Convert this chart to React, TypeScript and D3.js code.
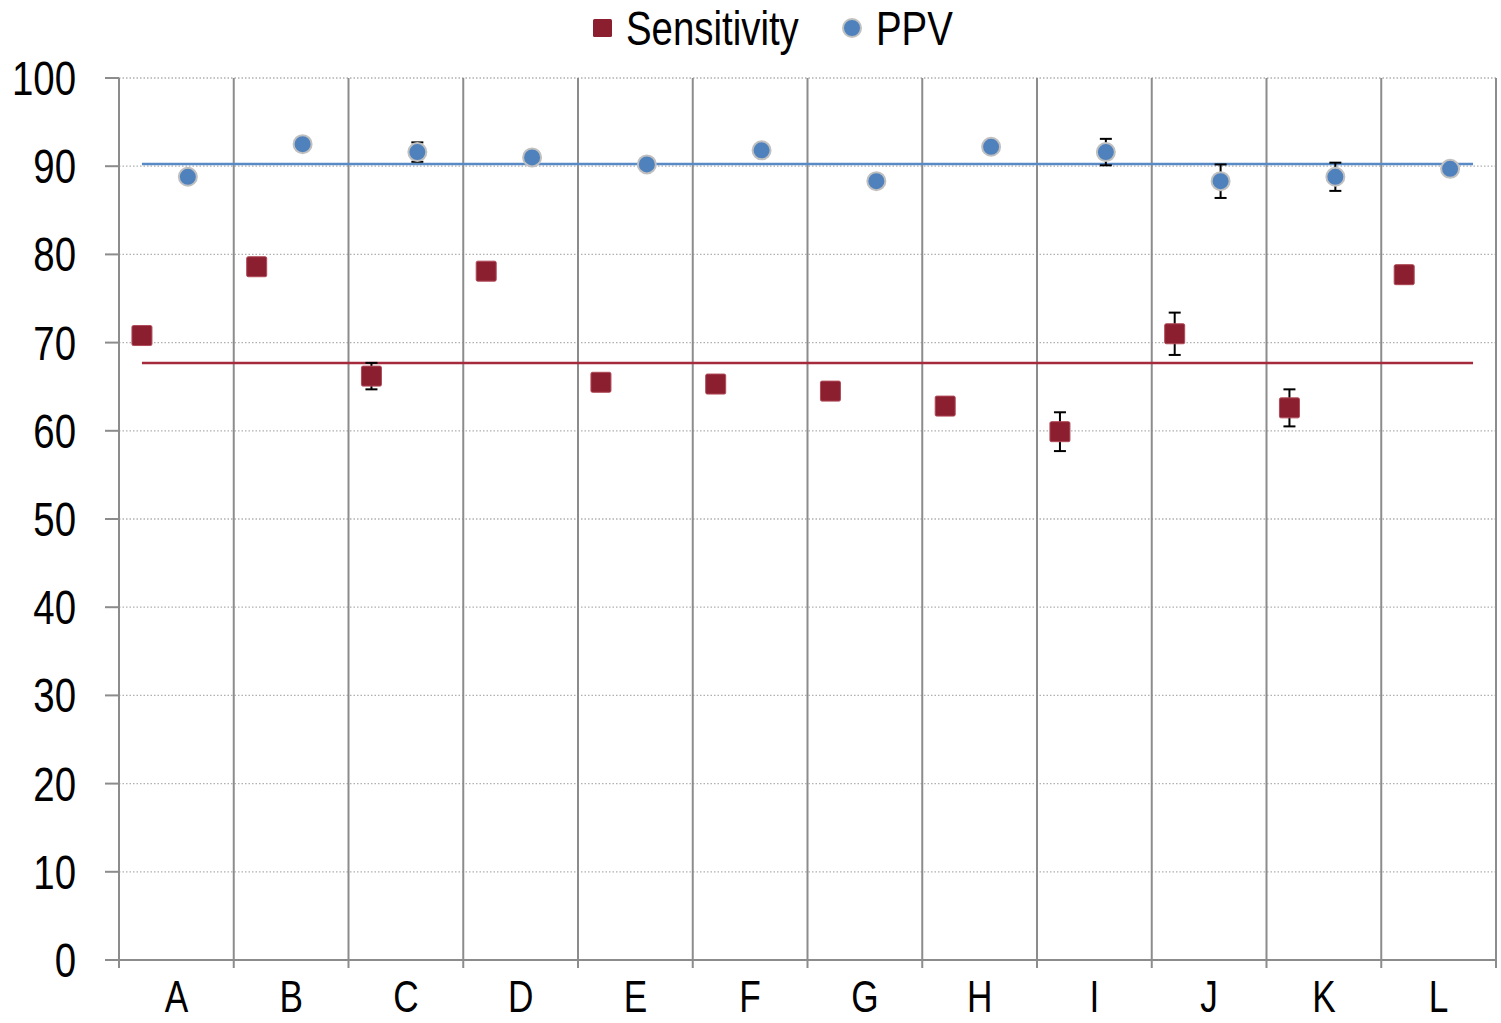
import { useEffect, useRef } from "react";
import * as d3 from "d3";

const categories = ["A", "B", "C", "D", "E", "F", "G", "H", "I", "J", "K", "L"];
const sensitivity = [70.8, 78.6, 66.2, 78.1, 65.5, 65.3, 64.5, 62.8, 59.9, 71.0, 62.6, 77.7];
const sensitivityErr = [0, 0, 1.5, 0, 0, 0, 0, 0, 2.2, 2.4, 2.1, 1.0];
const ppv = [88.8, 92.5, 91.6, 91.0, 90.2, 91.8, 88.3, 92.2, 91.6, 88.3, 88.8, 89.7];
const ppvErr = [0, 0, 1.1, 0, 0, 0, 0, 0, 1.5, 1.9, 1.6, 0];
const sensitivityMean = 67.7;
const ppvMean = 90.25;
const yTicks = [0, 10, 20, 30, 40, 50, 60, 70, 80, 90, 100];

// no narrow font installed, so Liberation Sans gets squeezed horizontally
const FONT = "'Liberation Sans', Arial, sans-serif";
const SQUEEZE = 0.8;
const RED = "#8B1F2F";
const BLUE = "#4F81BD";

export default function App() {
  const svgRef = useRef<SVGSVGElement>(null);

  useEffect(() => {
    if (!svgRef.current) return;
    const svg = d3.select(svgRef.current);
    svg.selectAll("*").remove();

    const left = 119, right = 1496, top = 78, bottom = 960;

    const x = d3.scaleBand().domain(categories).range([left, right]).padding(0);
    const y = d3.scaleLinear().domain([0, 100]).range([bottom, top]);
    const bw = x.bandwidth();
    const sx = (c: string) => (x(c) || 0) + bw * 0.2;
    const px = (c: string) => (x(c) || 0) + bw * 0.6;

    const label = (parent: any, tx: number, ty: number, txt: string, anchor: string, size = 47) =>
      parent.append("text")
        .attr("transform", `translate(${tx},${ty}) scale(${SQUEEZE},1)`)
        .attr("text-anchor", anchor)
        .style("font-family", FONT)
        .style("font-size", `${size}px`)
        .style("fill", "#000")
        .text(txt);

    // horizontal dotted gridlines
    svg.append("g")
      .selectAll("line")
      .data(yTicks.filter(t => t > 0))
      .enter()
      .append("line")
      .attr("x1", left).attr("x2", right)
      .attr("y1", d => y(d)).attr("y2", d => y(d))
      .attr("stroke", "#b0b0b0")
      .attr("stroke-width", 1.3)
      .attr("stroke-dasharray", "1.5 2");

    // vertical category separators
    const bounds = categories.map(c => x(c) || 0).concat([right]);
    svg.append("g")
      .selectAll("line")
      .data(bounds)
      .enter()
      .append("line")
      .attr("x1", d => d).attr("x2", d => d)
      .attr("y1", top).attr("y2", bottom + 8)
      .attr("stroke", "#8c8c8c")
      .attr("stroke-width", 2);

    // y axis ticks and baseline
    svg.append("g")
      .selectAll("line")
      .data(yTicks)
      .enter()
      .append("line")
      .attr("x1", left - 14).attr("x2", left)
      .attr("y1", d => y(d)).attr("y2", d => y(d))
      .attr("stroke", "#8c8c8c")
      .attr("stroke-width", 2);
    svg.append("line")
      .attr("x1", left - 14).attr("x2", right)
      .attr("y1", bottom).attr("y2", bottom)
      .attr("stroke", "#8c8c8c")
      .attr("stroke-width", 2);

    const yg = svg.append("g");
    yTicks.forEach(t => label(yg, 76, y(t) + 17, String(t), "end", 48));

    const xg = svg.append("g");
    categories.forEach(c => label(xg, (x(c) || 0) + bw / 2, 1012, c, "middle", 44));

    // mean lines
    const x0 = sx(categories[0]);
    const x1 = (x(categories[categories.length - 1]) || 0) + bw * 0.8;
    svg.append("line")
      .attr("x1", x0).attr("x2", x1)
      .attr("y1", y(ppvMean)).attr("y2", y(ppvMean))
      .attr("stroke", "#5A8AC6").attr("stroke-width", 2.5);
    svg.append("line")
      .attr("x1", x0).attr("x2", x1)
      .attr("y1", y(sensitivityMean)).attr("y2", y(sensitivityMean))
      .attr("stroke", "#A52A3C").attr("stroke-width", 2.5);

    // error bars
    const errBars = (xs: (c: string) => number, vals: number[], errs: number[]) => {
      const g = svg.append("g").attr("stroke", "#000").attr("stroke-width", 2);
      categories.forEach((c, i) => {
        if (!errs[i]) return;
        const cx = xs(c);
        const yt = y(vals[i] + errs[i]);
        const yb = y(vals[i] - errs[i]);
        g.append("line").attr("x1", cx).attr("x2", cx).attr("y1", yt).attr("y2", yb);
        g.append("line").attr("x1", cx - 6).attr("x2", cx + 6).attr("y1", yt).attr("y2", yt);
        g.append("line").attr("x1", cx - 6).attr("x2", cx + 6).attr("y1", yb).attr("y2", yb);
      });
    };
    errBars(sx, sensitivity, sensitivityErr);
    errBars(px, ppv, ppvErr);

    // markers
    svg.append("g")
      .selectAll("rect")
      .data(categories)
      .enter()
      .append("rect")
      .attr("x", d => sx(d) - 10)
      .attr("y", (d, i) => y(sensitivity[i]) - 10)
      .attr("width", 20).attr("height", 20)
      .attr("rx", 1.5)
      .attr("fill", RED)
      .attr("stroke", "#b04a58").attr("stroke-width", 1);

    svg.append("g")
      .selectAll("circle")
      .data(categories)
      .enter()
      .append("circle")
      .attr("cx", d => px(d))
      .attr("cy", (d, i) => y(ppv[i]))
      .attr("r", 9)
      .attr("fill", BLUE)
      .attr("stroke", "#c0c0c0").attr("stroke-width", 2);

    // legend
    const lg = svg.append("g");
    lg.append("rect")
      .attr("x", 593).attr("y", 19).attr("width", 19).attr("height", 18)
      .attr("rx", 1.5).attr("fill", RED);
    label(lg, 626, 45, "Sensitivity", "start", 48);
    lg.append("circle")
      .attr("cx", 852).attr("cy", 28).attr("r", 9)
      .attr("fill", BLUE).attr("stroke", "#c0c0c0").attr("stroke-width", 2);
    label(lg, 876, 45, "PPV", "start", 48);
  }, []);

  return (
    <svg
      ref={svgRef}
      width={1501}
      height={1023}
      style={{ position: "absolute", left: 0, top: 0, background: "#fff" }}
    />
  );
}
